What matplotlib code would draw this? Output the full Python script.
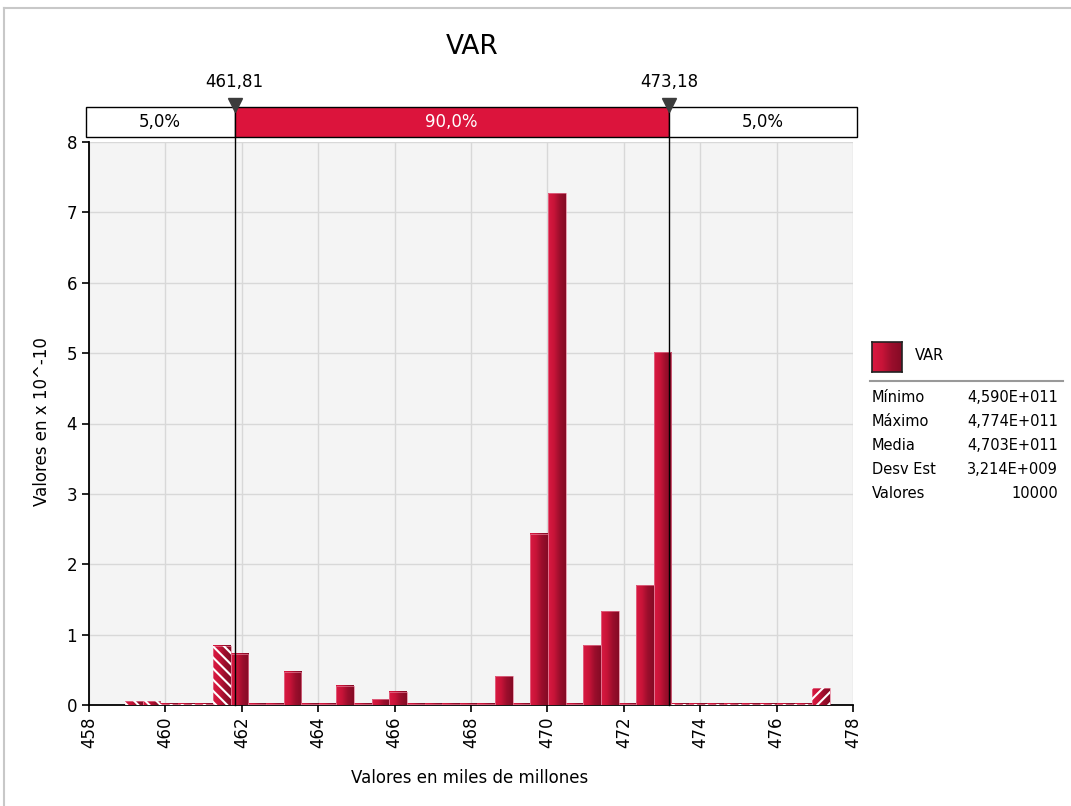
import numpy as np
import matplotlib.pyplot as plt
import matplotlib.transforms as mtransforms
from matplotlib.colors import LinearSegmentedColormap
from matplotlib.patches import Rectangle
from matplotlib.lines import Line2D

plt.rcParams['font.family'] = ['DejaVu Sans']
plt.rcParams['hatch.linewidth'] = 1.5

# histogram (x in miles de millones, y in x 10^-10)
bin_start = 458.94
bin_width = 0.4615
heights = [0.05, 0.05, 0.02, 0.02, 0.02, 0.84, 0.73, 0.02, 0.02, 0.47,
           0.02, 0.02, 0.27, 0.02, 0.08, 0.19, 0.02, 0.02, 0.02, 0.02,
           0.02, 0.41, 0.02, 2.43, 7.27, 0.02, 0.85, 1.33, 0.02, 1.70,
           5.01, 0.02, 0.02, 0.02, 0.02, 0.02, 0.02, 0.02, 0.02, 0.24]

p_low, p_high = 461.81, 473.18
p_labels = ['461,81', '473,18']
band_labels = ['5,0%', '90,0%', '5,0%']

x_ticks = list(range(458, 479, 2))
y_ticks = list(range(0, 9))

stat_names = ['Mínimo', 'Máximo', 'Media', 'Desv Est', 'Valores']
stat_values = ['4,590E+011', '4,774E+011', '4,703E+011', '3,214E+009', '10000']

red = '#DC143C'
cmap = LinearSegmentedColormap.from_list('bar', ['#DA1A42', '#C81438', '#9A0E2C', '#850B25'])
grad = np.linspace(0, 1, 64).reshape(1, -1)

fig = plt.figure(figsize=(10.71, 8.06), dpi=100)
W, H = 1071, 806

ax = fig.add_axes([89 / W, 1 - 705 / H, (853 - 89) / W, (705 - 142) / H])
ax.set_facecolor('#F4F4F4')

edges = bin_start + bin_width * np.arange(len(heights) + 1)
for i, h in enumerate(heights):
    x0, x1 = edges[i], edges[i + 1]
    ax.imshow(grad, cmap=cmap, extent=[x0, x1, 0, h], aspect='auto', zorder=3,
              interpolation='bilinear')
    ax.add_patch(Rectangle((x0, 0), x1 - x0, h, facecolor='none',
                           edgecolor='#E47A94', lw=0.5, zorder=3.2))
    c = (x0 + x1) / 2
    if c < p_low:
        hatch = '\\\\\\'
    elif c > p_high:
        hatch = '///'
    else:
        hatch = None
    if hatch:
        ax.add_patch(Rectangle((x0, 0), x1 - x0, h, facecolor='none',
                               edgecolor='white', lw=0, hatch=hatch, zorder=3.5))

ax.set_xlim(458, 478)
ax.set_ylim(0, 8)
ax.set_xticks(x_ticks)
ax.set_yticks(y_ticks)
ax.tick_params(axis='x', labelrotation=90, labelsize=12, length=5, width=1.2, colors='black')
ax.tick_params(axis='y', labelsize=12, length=5, width=1.2, colors='black')
ax.grid(True, color='#D8D8D8', lw=1)
ax.set_axisbelow(True)
for s in ['top', 'right']:
    ax.spines[s].set_visible(False)
for s in ['left', 'bottom']:
    ax.spines[s].set_color('black')
    ax.spines[s].set_linewidth(1.3)

# percentile band above the plot
tr = mtransforms.blended_transform_factory(ax.transData, ax.transAxes)
band_y0, band_h = 1.009, 0.053
band_x = [457.92, p_low, p_high, 478.1]
band_fc = ['white', red, 'white']
band_tc = ['black', 'white', 'black']
for i in range(3):
    ax.add_patch(Rectangle((band_x[i], band_y0), band_x[i + 1] - band_x[i], band_h,
                           transform=tr, facecolor=band_fc[i], edgecolor='black',
                           lw=1, clip_on=False, zorder=5))
    ax.text((band_x[i] + band_x[i + 1]) / 2, band_y0 + band_h / 2, band_labels[i],
            transform=tr, ha='center', va='center', fontsize=12,
            color=band_tc[i], zorder=6)

for p, lab in zip([p_low, p_high], p_labels):
    ax.plot([p, p], [0, band_y0], transform=tr, color='black', lw=1,
            clip_on=False, zorder=4)
    ax.plot([p], [band_y0 + band_h + 0.003], transform=tr, marker='v', ms=10,
            color='#3C3C3C', clip_on=False, zorder=7)
    ax.text(p, 1.107, lab, transform=tr, ha='center', va='center', fontsize=12)

fig.text(472 / W, 1 - 47 / H, 'VAR', ha='center', va='center', fontsize=19)
fig.text(42 / W, 1 - 422 / H, 'Valores en x 10^-10', rotation=90,
         ha='center', va='center', fontsize=12)
fig.text(470 / W, 1 - 778 / H, 'Valores en miles de millones',
         ha='center', va='center', fontsize=12)

# legend + statistics
lax = fig.add_axes([872 / W, 1 - 372 / H, 30 / W, 30 / H])
lax.imshow(grad, cmap=cmap, aspect='auto', extent=[0, 1, 0, 1])
lax.set_xticks([])
lax.set_yticks([])
for s in lax.spines.values():
    s.set_color('#222222')
    s.set_linewidth(1.2)
fig.text(915 / W, 1 - 356 / H, 'VAR', ha='left', va='center', fontsize=10.5)
fig.add_artist(Line2D([870 / W, 1063 / W], [1 - 381 / H] * 2, color='#999999', lw=1.5))
for k, (n, v) in enumerate(zip(stat_names, stat_values)):
    yy = 1 - (398 + 24 * k) / H
    fig.text(872 / W, yy, n, ha='left', va='center', fontsize=10.5)
    fig.text(1058 / W, yy, v, ha='right', va='center', fontsize=10.5)

# outer frame
fig.add_artist(Line2D([4 / W, 1], [1 - 8 / H] * 2, color='#C8C8C8', lw=1.5))
fig.add_artist(Line2D([4 / W] * 2, [0, 1 - 8 / H], color='#C8C8C8', lw=1.5))

fig.savefig('out.png', dpi=100)
